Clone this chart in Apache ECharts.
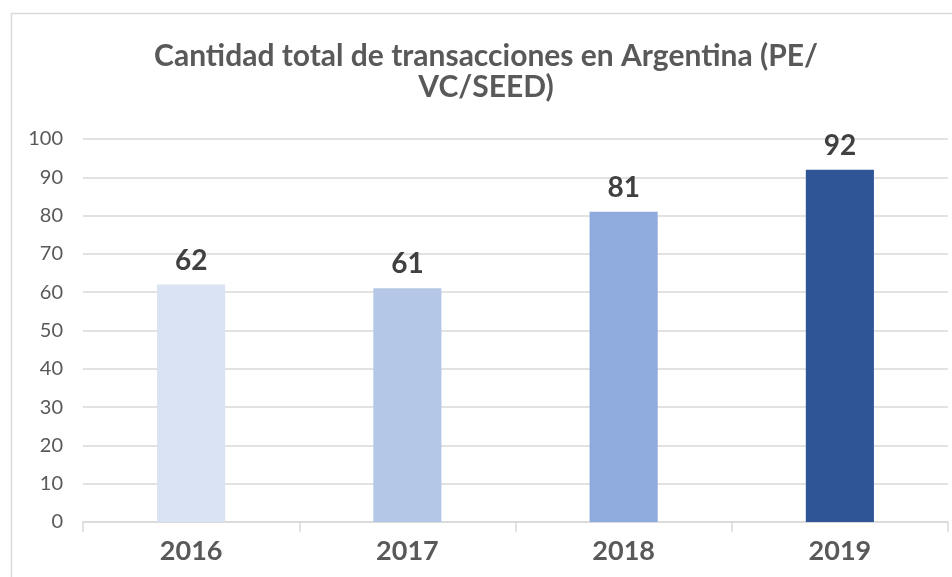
<!DOCTYPE html>
<html><head><meta charset="utf-8">
<script src="https://cdn.jsdelivr.net/npm/echarts@6/dist/echarts.min.js"></script>
<style>html,body{margin:0;padding:0;background:#fff}#c{width:952px;height:577px}</style>
</head><body><div id="c"></div>
<script>
const categories = ['2016', '2017', '2018', '2019'];
const values = [62, 61, 81, 92];
const barColors = ['#dae3f3', '#b4c7e7', '#8faadc', '#2f5597'];
const titleText = 'Cantidad total de transacciones en Argentina (PE/\nVC/SEED)';

const chart = echarts.init(document.getElementById('c'));
chart.setOption({
  animation: false,
  backgroundColor: '#ffffff',
  graphic: [{
    type: 'rect', left: 9, top: 11, z: -1,
    shape: { width: 960, height: 600 },
    style: { fill: 'none', stroke: '#d9d9d9', lineWidth: 1.5 }
  }],
  title: {
    text: titleText,
    left: 481, top: 36, textAlign: 'center',
    textStyle: { fontFamily: 'Lato', fontWeight: 'bold', fontSize: 30, color: '#595959', lineHeight: 31 }
  },
  grid: { left: 83, right: 4, top: 139, bottom: 55 },
  xAxis: {
    type: 'category', data: categories,
    axisLine: { lineStyle: { color: '#d9d9d9', width: 1.5 } },
    axisTick: { show: true, length: 10, lineStyle: { color: '#d9d9d9', width: 1.5 } },
    axisLabel: { fontFamily: 'Lato', fontWeight: 'bold', fontSize: 27, color: '#595959', margin: 16 }
  },
  yAxis: {
    type: 'value', min: 0, max: 100, interval: 10,
    axisLine: { show: false }, axisTick: { show: false },
    splitLine: { lineStyle: { color: '#d9d9d9', width: 1.5 } },
    axisLabel: { fontFamily: 'Lato', fontSize: 20, color: '#595959', margin: 20 }
  },
  series: [{
    type: 'bar', barWidth: '31.5%',
    data: values.map((v, i) => ({ value: v, itemStyle: { color: barColors[i] } })),
    label: { show: true, position: 'top', distance: 10, fontFamily: 'Lato', fontWeight: 'bold', fontSize: 28, color: '#404040' }
  }]
});
</script></body></html>
